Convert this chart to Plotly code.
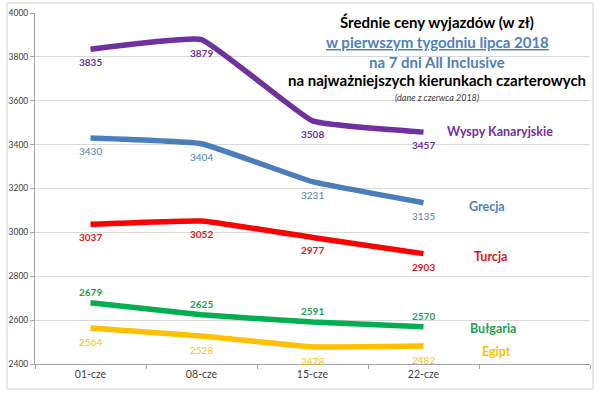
import plotly.graph_objects as go

categories = ["01-cze", "08-cze", "15-cze", "22-cze"]
series_names = ["Wyspy Kanaryjskie", "Grecja", "Turcja", "Bułgaria", "Egipt"]
wyspy = [3835, 3879, 3508, 3457]
grecja = [3430, 3404, 3231, 3135]
turcja = [3037, 3052, 2977, 2903]
bulgaria = [2679, 2625, 2591, 2570]
egipt = [2564, 2528, 2478, 2482]
y_ticks = [2400, 2600, 2800, 3000, 3200, 3400, 3600, 3800, 4000]

series_values = [wyspy, grecja, turcja, bulgaria, egipt]
colors = ["#7030A0", "#4A7EBB", "#FF0000", "#00B050", "#FFC000"]
label_colors = ["#7030A0", "#4F81BD", "#E8141C", "#1EA050", "#FFC000"]
label_bold = [True, False, True, True, False]
label_shift = [-13, -13, -13, 11, -14]
name_x = [3.69, 3.57, 3.60, 3.63, 3.66]
name_y = [3462, 3116, 2888, 2560, 2459]

FONT = "Lato"
W, H = 600, 394
ML, MR, MT, MB = 35, 10, 13, 30
PW, PH = W - ML - MR, H - MT - MB

def px_x(px):
    return (px - ML) / PW

def px_y(py):
    return (H - MB - py) / PH

fig = go.Figure()
xs = list(range(len(categories)))
for name, vals, col in zip(series_names, series_values, colors):
    fig.add_trace(go.Scatter(
        x=xs, y=vals, mode="lines", name=name,
        line=dict(color=col, width=5.5, shape="spline", smoothing=0.3),
        showlegend=False, hoverinfo="skip"))

annotations = []
for vals, col, bold, sh in zip(series_values, label_colors, label_bold, label_shift):
    for i, v in enumerate(vals):
        t = f"<b>{v}</b>" if bold else f"{v}"
        annotations.append(dict(x=i, y=v, xref="x", yref="y", text=t, showarrow=False,
                                yshift=sh, font=dict(family=FONT, size=10, color=col)))

for name, nx, ny, col in zip(series_names, name_x, name_y, label_colors):
    annotations.append(dict(x=nx, y=ny, xref="x", yref="y", text=f"<b>{name}</b>",
                            showarrow=False, font=dict(family=FONT, size=12.5, color=col)))

title_lines = [
    ("<b>Średnie ceny wyjazdów (w zł)</b>", 22, 15, "#000000"),
    ("<b><u>w pierwszym tygodniu lipca 2018</u></b>", 42, 15, "#4F81BD"),
    ("<b>na 7 dni All Inclusive</b>", 62, 15, "#4F81BD"),
    ("<b>na najważniejszych kierunkach czarterowych</b>", 80, 15, "#000000"),
    ("<i>(dane z czerwca 2018)</i>", 97, 9, "#404040"),
]
for txt, py, fs, col in title_lines:
    annotations.append(dict(x=px_x(437), y=px_y(py), xref="paper", yref="paper",
                            text=txt, showarrow=False, xanchor="center", yanchor="middle",
                            font=dict(family=FONT, size=fs, color=col)))

fig.update_layout(
    width=W, height=H,
    margin=dict(l=ML, r=MR, t=MT, b=MB, autoexpand=False),
    paper_bgcolor="white", plot_bgcolor="white",
    annotations=annotations,
    shapes=[dict(type="rect", xref="paper", yref="paper",
                 x0=px_x(7), x1=px_x(593), y0=px_y(389), y1=px_y(3),
                 line=dict(color="#D0D0D0", width=1), fillcolor="rgba(0,0,0,0)", layer="below")],
    xaxis=dict(range=[-0.5, len(categories) + 0.5], tickmode="array", tickvals=xs,
               ticktext=categories, ticks="", showgrid=False, zeroline=False,
               showline=True, linecolor="#A6A6A6", linewidth=1, automargin=False,
               tickfont=dict(family=FONT, size=10.5, color="#404040"),
               minor=dict(tick0=-0.5, dtick=1, ticks="outside", ticklen=4,
                          tickcolor="#A6A6A6", showgrid=False)),
    yaxis=dict(range=[y_ticks[0], y_ticks[-1]], tickmode="array", tickvals=y_ticks,
               ticks="outside", ticklen=4, tickcolor="#A6A6A6", automargin=False,
               showgrid=True, gridcolor="#D9D9D9", gridwidth=1, zeroline=False,
               showline=True, linecolor="#A6A6A6", linewidth=1,
               tickfont=dict(family=FONT, size=8.5, color="#404040")),
)

fig.write_html("out.html", config={"displayModeBar": False},
               post_script="document.body.style.margin='0';")
